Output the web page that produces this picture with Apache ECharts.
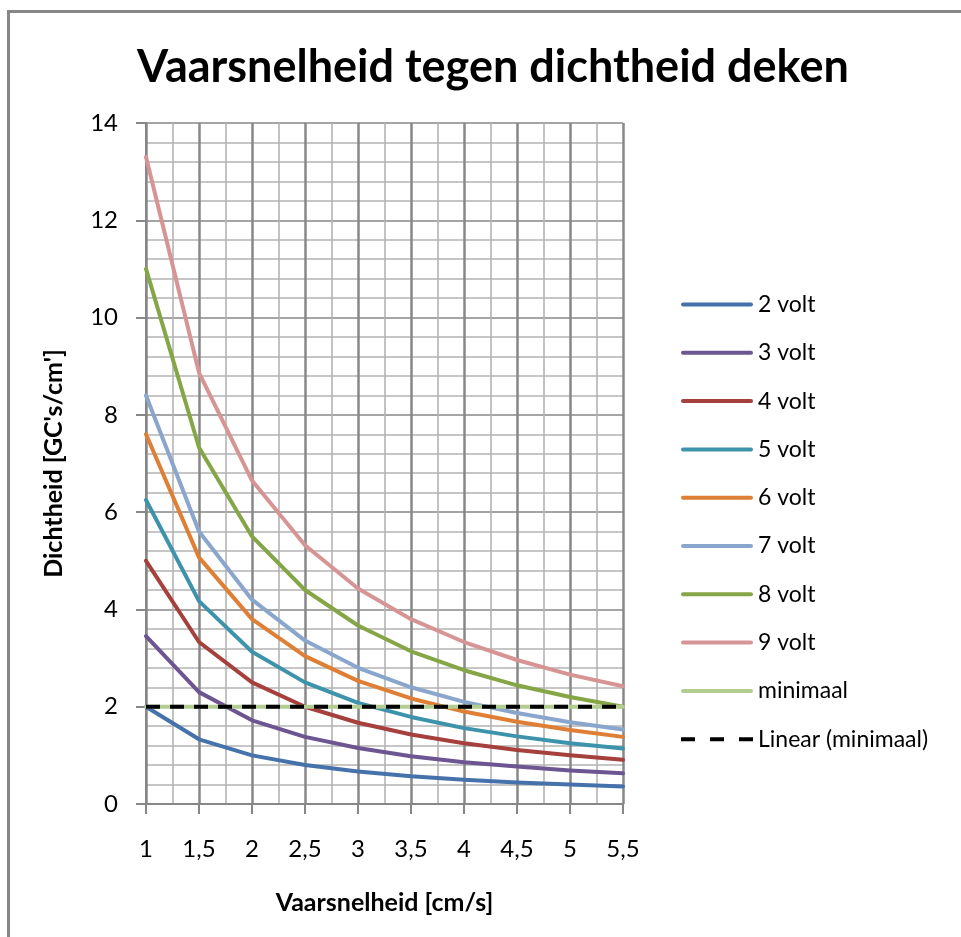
<!DOCTYPE html>
<html>
<head>
<meta charset="utf-8">
<script src="https://cdn.jsdelivr.net/npm/echarts@6/dist/echarts.min.js"></script>
<style>
  html, body { margin: 0; padding: 0; background: #fff; }
  #chart { width: 961px; height: 937px; }
</style>
</head>
<body>
<div id="chart"></div>
<script>
// Vaarsnelheid (cm/s)
const speeds = [1, 1.5, 2, 2.5, 3, 3.5, 4, 4.5, 5, 5.5];

// Dichtheid per spanning (GC's/cm')
const volt2 = [2.0, 1.33, 1.0, 0.8, 0.67, 0.57, 0.5, 0.44, 0.4, 0.36];
const volt3 = [3.45, 2.3, 1.72, 1.38, 1.15, 0.98, 0.86, 0.77, 0.69, 0.63];
const volt4 = [5.0, 3.33, 2.5, 2.0, 1.67, 1.43, 1.25, 1.11, 1.0, 0.91];
const volt5 = [6.25, 4.17, 3.13, 2.5, 2.08, 1.79, 1.56, 1.39, 1.25, 1.14];
const volt6 = [7.6, 5.07, 3.8, 3.04, 2.53, 2.17, 1.9, 1.69, 1.52, 1.38];
const volt7 = [8.4, 5.6, 4.2, 3.36, 2.8, 2.4, 2.1, 1.87, 1.68, 1.53];
const volt8 = [11.0, 7.33, 5.5, 4.4, 3.67, 3.14, 2.75, 2.44, 2.2, 2.0];
const volt9 = [13.3, 8.87, 6.65, 5.32, 4.43, 3.8, 3.33, 2.96, 2.66, 2.42];
const minimaal = [2, 2, 2, 2, 2, 2, 2, 2, 2, 2];
const linearMinimaal = [2, 2, 2, 2, 2, 2, 2, 2, 2, 2];

const seriesNames = ['2 volt', '3 volt', '4 volt', '5 volt', '6 volt', '7 volt', '8 volt', '9 volt', 'minimaal', 'Linear (minimaal)'];
const seriesValues = [volt2, volt3, volt4, volt5, volt6, volt7, volt8, volt9, minimaal, linearMinimaal];
const seriesColors = ['#4672AC', '#6D5592', '#A5403C', '#3D93AB', '#DE7F35', '#8AA6CD', '#85A647', '#D69594', '#B3CC90', '#000000'];

const font = 'Lato, "Open Sans", "Liberation Sans", sans-serif';

// legend keys: a solid bar, or three dashes for the trend line
const solidKey = 'path://M2,0H70A2,2 0 0 1 70,4H2A2,2 0 0 1 2,0Z';
const dashedKey = 'path://M0,0H14V4H0ZM29,0H43V4H29ZM58,0H72V4H58Z';

const series = seriesValues.map((vals, i) => {
  const isTrend = i === seriesValues.length - 1;
  return {
    name: seriesNames[i],
    type: 'line',
    symbol: 'none',
    smooth: false,
    z: 2 + i,
    data: speeds.map((s, j) => [s, vals[j]]),
    lineStyle: {
      color: seriesColors[i],
      width: 4,
      type: isTrend ? [14, 10] : 'solid',
      cap: isTrend ? 'butt' : 'round',
      join: 'round'
    },
    itemStyle: { color: seriesColors[i] }
  };
});

const chart = echarts.init(document.getElementById('chart'), null, { renderer: 'canvas' });
chart.setOption({
  backgroundColor: '#fff',
  animation: false,
  title: {
    text: 'Vaarsnelheid tegen dichtheid deken',
    left: 488,
    top: 40,
    textAlign: 'center',
    textStyle: { fontFamily: font, fontWeight: 'bold', fontSize: 45, color: '#000' }
  },
  graphic: [{
    type: 'rect',
    shape: { x: 8.5, y: 11.5, width: 1000, height: 1000 },
    style: { fill: 'none', stroke: '#878787', lineWidth: 3 },
    silent: true
  }],
  grid: { left: 146, right: 338, top: 123, bottom: 133 },
  legend: {
    orient: 'vertical',
    left: 676,
    top: 288,
    itemWidth: 72,
    itemHeight: 4,
    itemGap: 25.3,
    textStyle: { fontFamily: font, fontSize: 23, color: '#000', padding: [0, 0, 0, 0] },
    data: seriesNames.map((n, i) => ({
      name: n,
      icon: i === seriesNames.length - 1 ? dashedKey : solidKey,
      itemStyle: { color: seriesColors[i], borderWidth: 0 }
    }))
  },
  xAxis: {
    type: 'value',
    min: 1,
    max: 5.5,
    interval: 0.5,
    name: 'Vaarsnelheid [cm/s]',
    nameLocation: 'middle',
    nameGap: 86,
    nameTextStyle: { fontFamily: font, fontWeight: 'bold', fontSize: 25, color: '#000' },
    axisLine: { show: true, lineStyle: { color: '#878787', width: 2 } },
    axisTick: { show: true, length: 10, lineStyle: { color: '#878787', width: 2 } },
    axisLabel: {
      margin: 33,
      fontFamily: font, fontSize: 24, color: '#000',
      formatter: v => String(v).replace('.', ',')
    },
    splitLine: { show: true, lineStyle: { color: '#878787', width: 2.5 } },
    minorTick: { show: false, splitNumber: 2 },
    minorSplitLine: { show: true, lineStyle: { color: '#B3B3B3', width: 1.6 } }
  },
  yAxis: {
    type: 'value',
    min: 0,
    max: 14,
    interval: 2,
    name: "Dichtheid [GC's/cm']",
    nameLocation: 'middle',
    nameGap: 80,
    nameTextStyle: { fontFamily: font, fontWeight: 'bold', fontSize: 25, color: '#000' },
    axisLine: { show: true, lineStyle: { color: '#878787', width: 2 } },
    axisTick: { show: true, length: 10, lineStyle: { color: '#878787', width: 2 } },
    axisLabel: { margin: 28, fontFamily: font, fontSize: 24, color: '#000' },
    splitLine: { show: true, lineStyle: { color: '#878787', width: 1.6 } },
    minorTick: { show: false, splitNumber: 5 },
    minorSplitLine: { show: true, lineStyle: { color: '#B3B3B3', width: 1.6 } }
  },
  series: series
});
</script>
</body>
</html>
